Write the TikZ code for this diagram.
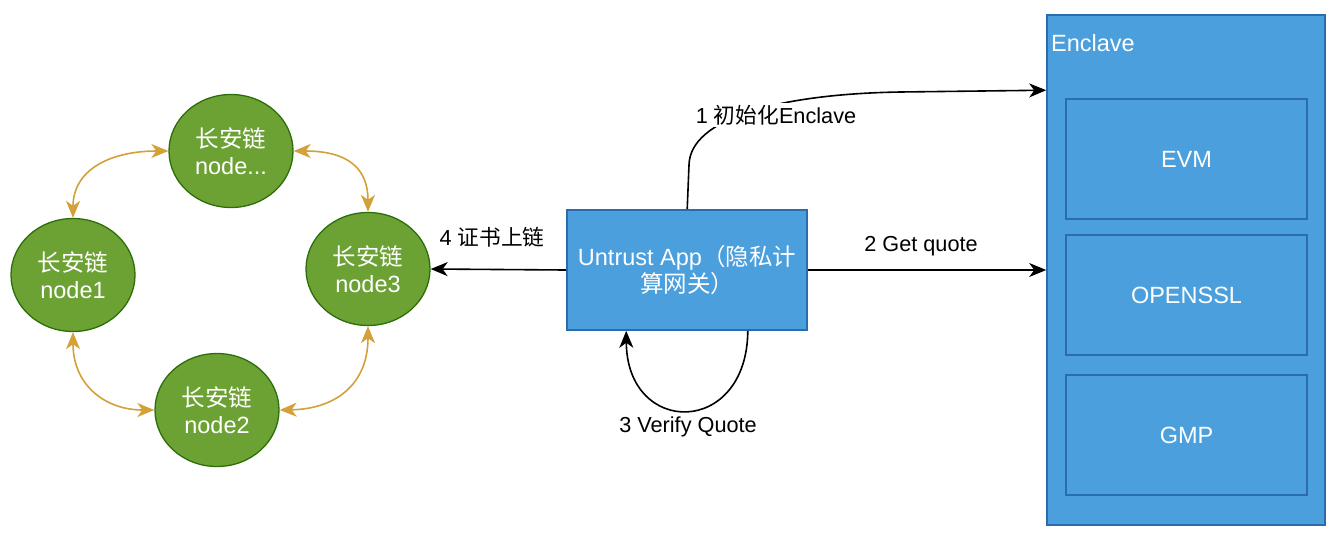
\documentclass[tikz,border=0pt]{standalone}
\usepackage{fontspec}
\setmainfont{Liberation Sans}
\newfontfamily\cjk{Noto Sans CJK SC}
\usetikzlibrary{arrows.meta,shapes.geometric}
\definecolor{gfill}{RGB}{108,162,52}
\definecolor{gline}{RGB}{45,110,10}
\definecolor{bfill}{RGB}{74,159,220}
\definecolor{bline}{RGB}{42,108,172}
\definecolor{orng}{RGB}{212,160,56}
\begin{document}
\begin{tikzpicture}[x=1pt,y=-1pt,
  every node/.style={font=\fontsize{23.5}{27.5}\selectfont},
  chain/.style={ellipse,draw=gline,line width=1.3pt,fill=gfill,text=white,
    minimum width=124pt,minimum height=113pt,inner sep=0pt,align=center},
  bbox/.style={rectangle,draw=bline,line width=1.6pt,fill=bfill,text=white,
    inner sep=0pt,align=center},
  lbl/.style={inner sep=2pt,text=black,font=\fontsize{21.7}{26}\selectfont},
  blk/.style={line width=1.6pt,draw=black,-{Stealth[length=17pt,width=14pt,inset=5pt]}},
  org/.style={line width=1.6pt,draw=orng,
    {Stealth[length=17pt,width=14pt,inset=5pt]}-{Stealth[length=17pt,width=14pt,inset=5pt]}}
]
\useasboundingbox (0,0) rectangle (1340,542);

% chain nodes
\node[chain] (top) at (231,151) {{\cjk 长安链}\\node...};
\node[chain] (n1) at (73,275) {{\cjk 长安链}\\node1};
\node[chain] (n3) at (368,269) {{\cjk 长安链}\\node3};
\node[chain] (n2) at (217,410) {{\cjk 长安链}\\node2};

% orange links
\draw[org] (top.west) .. controls (110,151) and (73,170) .. (n1.north);
\draw[org] (top.east) .. controls (350,151) and (368,170) .. (n3.north);
\draw[org] (n1.south) .. controls (73,385) and (105,410) .. (n2.west);
\draw[org] (n3.south) .. controls (368,385) and (335,409) .. (n2.east);

% untrust app
\node[bbox,minimum width=240pt,minimum height=120pt] (app) at (687,270)
  {Untrust App{\cjk （隐私计}\\{\cjk 算网关）}};

% enclave
\node[bbox,minimum width=278pt,minimum height=510pt] (enc) at (1186,270) {};
\node[anchor=west,text=white,inner sep=0pt] (enct) at (1051,43) {Enclave};
\node[bbox,minimum width=241pt,minimum height=120pt] (evm) at (1186.5,159) {EVM};
\node[bbox,minimum width=241pt,minimum height=120pt] (ssl) at (1186.5,295) {OPENSSL};
\node[bbox,minimum width=241pt,minimum height=120pt] (gmp) at (1186.5,435) {GMP};

% arrows
\draw[blk] ([xshift=121pt]app.north west) -- (689,165)
  .. controls (690,118) and (780,94) .. (900,92) -- ([yshift=-76pt]enc.north west);
\node[lbl,fill=white] (l1) at (776,115) {1 {\cjk 初始化}Enclave};

\draw[blk] (app.east) -- (app.east -| enc.west);
\node[lbl] (l2) at (921,246) {2 Get quote};

\draw[blk] ([xshift=-60pt]app.south east) .. controls (747,437) and (627,437) .. ([xshift=60pt]app.south west);
\node[lbl] (l3) at (688,427) {3 Verify Quote};

\draw[blk] (app.west) -- (n3.east);
\node[lbl] (l4) at (492,237) {4 {\cjk 证书上链}};
\end{tikzpicture}
\end{document}
